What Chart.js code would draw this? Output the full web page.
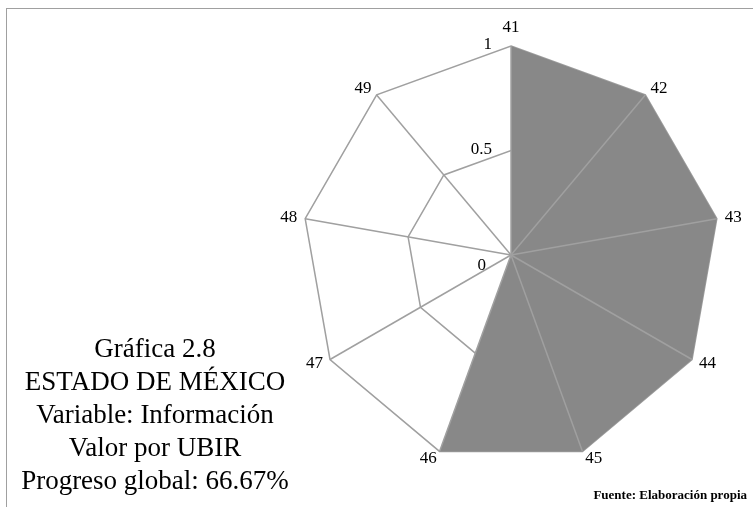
<!DOCTYPE html>
<html>
<head>
<meta charset="utf-8">
<script src="https://cdn.jsdelivr.net/npm/chart.js@4.4.1/dist/chart.umd.min.js"></script>
<style>
  html, body { margin: 0; padding: 0; background: #fff; overflow: hidden; }
  body { width: 753px; height: 507px; position: relative; font-family: "Liberation Serif", "Times New Roman", serif; }
  #frame { position: absolute; left: 6px; top: 8px; right: -10px; bottom: -10px;
           border-top: 1.5px solid #a0a0a0; border-left: 1.5px solid #a0a0a0; }
  #wrap { position: absolute; left: 0; top: 0; width: 800px; height: 507px; }
  #info { position: absolute; left: 5px; width: 300px; top: 332px; text-align: center;
          font-size: 27px; line-height: 33px; color: #000; }
  #src { position: absolute; right: 6px; top: 487px; font-size: 13px; font-weight: bold; color: #000; }
</style>
</head>
<body>
<div id="frame"></div>
<div id="wrap"><canvas id="radar"></canvas></div>
<div id="info">Gráfica 2.8<br>ESTADO DE MÉXICO<br>Variable: Información<br>Valor por UBIR<br>Progreso global: 66.67%</div>
<div id="src">Fuente: Elaboración propia</div>
<script>
// UBIR indicators and their values
var LABELS = ['41', '42', '43', '44', '45', '46', '47', '48', '49'];
var VALUES = [1, 1, 1, 1, 1, 1, 0, 0, 0];
var TICKS = [0, 0.5, 1];

var GRID = '#a0a0a0';
var FONT = 'Liberation Serif';

// spokes are drawn over the filled area, rings stay below it
var spokes = {
  id: 'spokes',
  afterDatasetsDraw: function (chart) {
    var r = chart.scales.r;
    var ctx = chart.ctx;
    ctx.save();
    ctx.strokeStyle = GRID;
    ctx.lineWidth = 1.5;
    LABELS.forEach(function (lab, i) {
      var p = r.getPointPositionForValue(i, r.max);
      ctx.beginPath();
      ctx.moveTo(r.xCenter, r.yCenter);
      ctx.lineTo(p.x, p.y);
      ctx.stroke();
    });
    ctx.restore();
  }
};

// tick labels sit left of the first spoke, like the original
var tickLabels = {
  id: 'tickLabels',
  afterDraw: function (chart) {
    var r = chart.scales.r;
    var ctx = chart.ctx;
    ctx.save();
    ctx.font = '17px "' + FONT + '"';
    ctx.fillStyle = '#000';
    ctx.textAlign = 'right';
    ctx.textBaseline = 'alphabetic';
    TICKS.forEach(function (v) {
      var y = r.yCenter - r.getDistanceFromCenterForValue(v);
      if (v === TICKS[0]) {
        ctx.fillText(String(v), r.xCenter - 25, y + 15);
      } else {
        ctx.fillText(String(v), r.xCenter - 19, y + 3);
      }
    });
    ctx.restore();
  }
};

new Chart(document.getElementById('radar'), {
  type: 'radar',
  data: {
    labels: LABELS,
    datasets: [{
      data: VALUES,
      backgroundColor: '#888888',
      borderWidth: 0,
      pointRadius: 0,
      fill: 'origin'
    }]
  },
  options: {
    responsive: true,
    maintainAspectRatio: false,
    animation: false,
    layout: { padding: { left: 260, right: 38, top: 19, bottom: 34 } },
    plugins: { legend: { display: false }, tooltip: { enabled: false } },
    scales: {
      r: {
        min: 0,
        max: 1,
        ticks: { display: false, stepSize: 0.5 },
        grid: { color: GRID, lineWidth: 1.5 },
        angleLines: { display: false },
        pointLabels: {
          color: '#000',
          padding: function (ctx) { return ctx.index === 0 ? 18 : 8; },
          font: { family: FONT, size: 17, lineHeight: 0 }
        }
      }
    }
  },
  plugins: [spokes, tickLabels]
});
</script>
</body>
</html>
